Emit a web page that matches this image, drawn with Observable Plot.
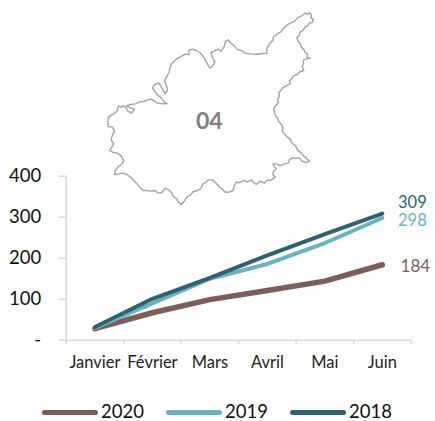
<!DOCTYPE html>
<html><head><meta charset="utf-8">
<script src="https://cdn.jsdelivr.net/npm/d3@7"></script>
<script src="https://cdn.jsdelivr.net/npm/@observablehq/plot@0.6"></script>
<style>
html,body{margin:0;padding:0;background:#fff;overflow:hidden}
body{width:435px;height:421px;font-family:Lato,sans-serif}
svg{display:block}
#legend{position:relative;height:36px;font-size:18.5px;color:#111}
#legend span{position:absolute;top:17px;line-height:19px}
#legend i{position:absolute;top:25px;height:5px;border-radius:3px}
</style></head><body>
<div id="chart"></div><div id="legend"></div>
<script>
const months = ["Janvier","Février","Mars","Avril","Mai","Juin"];
const values2018 = [32,101,152,207,259,309];
const values2019 = [30,90,150,186,237,298];
const values2020 = [28,67,99,121,144,184];
const years = ["2020","2019","2018"];
const colors = ["#7b5d59","#6bb2c0","#2e626f"];
const widths = [5.5,4,4];
const endLabels = [184,298,309];
const yTicks = [0,100,200,300,400];
const mapTitle = "04";
// Department outline in map units
const outlineTrace = [[645,38],[652,41],[660,37],[664,45],[662,52],[670,56],[666,66],[658,68],[652,76],[644,80],[640,88],[630,95],[627,105],[620,112],[624,122],[630,128],[633,140],[641,146],[645,156],[652,160],[650,170],[660,172],[648,176],[640,178],[640,190],[636,198],[641,210],[630,213],[622,222],[610,226],[604,236],[598,240],[600,250],[588,256],[578,262],[572,270],[566,276],[568,288],[562,296],[564,308],[556,316],[550,325],[553,335],[556,346],[562,352],[566,364],[574,372],[578,382],[576,392],[584,402],[592,410],[600,416],[606,428],[616,436],[622,448],[632,456],[640,466],[650,474],[658,482],[648,486],[636,482],[628,472],[618,474],[606,472],[598,478],[594,488],[582,490],[570,496],[560,490],[548,490],[552,498],[558,504],[550,512],[548,522],[556,530],[544,538],[530,540],[522,548],[510,542],[498,552],[490,546],[484,538],[472,544],[460,540],[450,546],[438,545],[432,556],[428,570],[418,574],[406,576],[396,566],[386,558],[376,546],[366,538],[354,538],[346,546],[338,550],[332,564],[320,570],[308,574],[300,584],[290,590],[282,602],[272,612],[264,604],[258,594],[248,586],[242,574],[232,566],[224,564],[214,576],[204,578],[194,570],[182,572],[170,570],[158,570],[148,560],[140,550],[130,540],[120,530],[110,522],[98,518],[86,520],[72,522],[74,510],[84,498],[94,492],[100,480],[92,466],[82,458],[70,456],[58,450],[64,440],[70,430],[62,418],[66,404],[72,392],[66,380],[54,378],[52,364],[54,350],[62,344],[70,340],[80,332],[84,316],[92,320],[100,316],[108,324],[112,332],[124,338],[132,326],[120,322],[108,316],[120,312],[135,310],[148,304],[160,303],[172,298],[182,296],[192,302],[202,308],[216,310],[230,309],[220,302],[212,292],[200,282],[192,270],[186,262],[194,252],[206,248],[212,258],[218,268],[224,280],[232,268],[228,254],[222,240],[228,230],[236,216],[238,204],[244,190],[254,180],[264,172],[276,166],[286,160],[296,163],[296,150],[306,146],[318,150],[328,156],[336,164],[344,176],[350,188],[358,202],[366,198],[374,184],[366,170],[362,156],[374,150],[384,146],[392,152],[402,138],[406,122],[414,118],[422,128],[432,136],[442,148],[454,150],[464,158],[480,160],[500,161],[516,159],[530,158],[530,144],[538,130],[548,120],[550,108],[562,100],[572,94],[580,84],[590,74],[604,66],[614,62],[622,52],[634,46],[640,42],[645,38]];

const fromMapX = z => 0.4221 + z * 0.00579;
const fromMapY = z => 828.5 - z * 0.813;
const outline = outlineTrace.map(([x, y]) => ({x: fromMapX(x), y: fromMapY(y)}));
const series = (yr, vals) => vals.map((v, i) => ({i: i + 0.5, v, yr}));
const axisGray = "#d9d9d9";

const plot = Plot.plot({
  width: 435, height: 385,
  marginLeft: 65.7, marginRight: 24.4, marginTop: 175.7, marginBottom: 45.3,
  x: {domain: [0, 6], axis: null},
  y: {domain: [0, 400], axis: null},
  style: {fontFamily: "Lato, sans-serif", background: "transparent", overflow: "visible"},
  marks: [
    Plot.line(outline, {x: "x", y: "y", stroke: "#a3a3a3", strokeWidth: 1.4, curve: "linear"}),
    Plot.text([mapTitle], {x: [2.49], y: [532], text: d => d, fontSize: 23, fontWeight: 700, fill: "#7f7f7f"}),
    Plot.ruleX([0], {y1: 0, y2: 400, stroke: axisGray, strokeWidth: 1.5}),
    Plot.ruleY([0], {x1: 0, x2: 6, stroke: axisGray, strokeWidth: 1.5}),
    Plot.axisY({ticks: yTicks, tickSize: 7, tickPadding: 18, stroke: axisGray, strokeWidth: 1.5, color: "#111", fontSize: 18.5, tickFormat: d => d === 0 ? "-" : String(d), label: null}),
    Plot.axisX({ticks: d3.range(0, 7), tickSize: 4.5, stroke: axisGray, strokeWidth: 1.5, tickFormat: () => "", label: null}),
    Plot.axisX({ticks: months.map((m, i) => i + 0.5), tickSize: 0, tickPadding: 16, color: "#222", fontSize: 16.5, tickFormat: d => months[d - 0.5], label: null}),
    ...[values2020, values2019, values2018].map((vals, k) =>
      Plot.line(series(years[k], vals), {x: "i", y: "v", stroke: colors[k], strokeWidth: widths[k], strokeLinecap: "round", strokeLinejoin: "round"})),
    Plot.text([endLabels[0]], {x: [5.5], y: [endLabels[0]], text: d => d, fill: colors[0], fontSize: 17, dx: 33, dy: 2}),
    Plot.text([endLabels[1]], {x: [5.5], y: [endLabels[1]], text: d => d, fill: colors[1], fontSize: 16.5, dx: 30, dy: 3}),
    Plot.text([endLabels[2]], {x: [5.5], y: [endLabels[2]], text: d => d, fill: colors[2], fontSize: 16.5, dx: 30, dy: -11}),
  ]
});
document.getElementById("chart").append(plot);

const legend = document.getElementById("legend");
const lefts = [42,166,290];
years.forEach((y, k) => {
  const sw = document.createElement("i");
  sw.style.cssText = `left:${lefts[k]}px;width:56px;background:${colors[k]}`;
  const t = document.createElement("span");
  t.style.left = (lefts[k] + 59) + "px";
  t.textContent = y;
  legend.append(sw, t);
});
</script></body></html>
